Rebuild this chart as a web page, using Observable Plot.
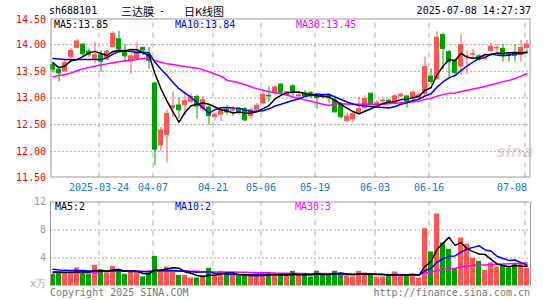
<!DOCTYPE html>
<html><head><meta charset="utf-8">
<script src="https://cdn.jsdelivr.net/npm/d3@7"></script>
<script src="https://cdn.jsdelivr.net/npm/@observablehq/plot@0.6"></script>
<style>
html,body{margin:0;padding:0;background:#fff;}
#wrap{position:relative;width:545px;height:300px;overflow:hidden;font-family:"DejaVu Sans Mono",monospace;font-size:10px;}
#wrap svg{position:absolute;left:0;}
.t{position:absolute;white-space:pre;line-height:12px;height:12px;}
</style></head><body><div id="wrap"></div>
<script>
// ---- data ----
const opens = [13.62,13.53,13.50,13.77,13.94,14.00,13.87,13.72,13.80,13.72,
13.96,14.10,13.86,13.70,13.72,13.94,13.80,13.27,12.11,12.31,
12.81,12.86,12.87,12.93,13.02,12.80,12.82,12.65,12.69,12.78,
12.76,12.78,12.79,12.66,12.78,12.90,13.04,13.09,13.25,13.05,
13.22,13.03,13.09,13.09,13.06,13.05,13.06,12.95,12.89,12.57,
12.60,12.70,12.81,13.08,12.82,12.94,12.95,12.91,13.03,13.03,
12.99,13.00,13.08,13.40,13.36,14.18,13.86,13.70,13.59,13.76,
13.81,13.78,13.74,13.88,13.93,13.92,13.81,13.84,13.81,13.94];
const highs = [13.67,13.58,13.70,13.93,14.10,14.02,13.92,14.04,13.89,13.89,
14.24,14.25,14.00,13.83,14.04,13.95,13.95,13.30,12.45,12.78,
13.12,13.00,13.12,13.08,13.05,13.03,12.87,12.72,12.80,12.85,
12.84,12.82,12.82,12.82,12.90,13.14,13.21,13.23,13.27,13.12,
13.25,13.09,13.14,13.12,13.08,13.07,13.08,13.04,12.92,12.72,
12.74,13.02,13.04,13.08,12.95,12.98,12.98,13.06,13.09,13.03,
13.14,13.11,13.77,13.55,14.24,14.21,13.89,13.73,14.19,13.88,
13.91,13.81,13.80,14.02,14.00,14.00,13.83,14.00,14.08,14.08];
const lows = [13.47,13.30,13.48,13.70,13.92,13.77,13.76,13.64,13.48,13.70,
13.94,13.89,13.67,13.45,13.70,13.80,13.54,11.73,12.00,11.78,
12.63,12.61,12.67,12.89,12.60,12.74,12.49,12.57,12.55,12.68,
12.65,12.68,12.56,12.60,12.76,12.88,12.92,13.05,13.05,13.02,
13.02,12.99,13.00,12.99,12.79,12.99,12.90,12.72,12.61,12.55,
12.53,12.67,12.78,12.86,12.80,12.90,12.89,12.87,13.01,12.81,
12.90,12.95,13.03,13.25,13.33,13.53,13.39,13.44,13.42,13.45,
13.71,13.69,13.70,13.86,13.85,13.67,13.67,13.67,13.67,13.87];
const closes = [13.53,13.46,13.66,13.88,14.06,13.82,13.81,13.80,13.68,13.87,
14.20,13.91,13.78,13.78,13.86,13.89,13.70,12.03,12.39,12.70,
12.85,12.77,12.94,13.02,12.84,12.96,12.66,12.68,12.76,12.73,
12.77,12.74,12.58,12.77,12.85,13.06,13.03,13.20,13.10,13.11,
13.10,13.05,13.03,13.03,13.00,13.02,13.01,12.73,12.64,12.65,
12.70,12.79,12.98,12.87,12.90,12.95,12.91,13.03,13.06,12.93,
13.10,13.05,13.58,13.30,14.13,13.92,13.67,13.47,13.99,13.78,
13.82,13.72,13.77,13.96,13.94,13.79,13.79,13.79,13.94,14.00];
const volumes = [1.67,1.9,1.9,1.9,2.57,1.9,1.67,2.95,2.24,1.86,
2.8,1.95,1.67,2.1,1.9,1.29,1.86,4.24,2.1,2.7,
2.19,1.52,1.52,1.14,1.14,1.43,2.52,1.52,2.1,1.67,
1.43,1.43,1.43,1.52,1.52,1.67,1.9,1.52,1.52,1.52,
2.1,1.52,1.67,1.29,2.1,1.67,1.67,2.1,1.67,1.43,
1.29,2.1,1.86,1.67,1.29,1.29,1.52,2.0,1.52,1.52,
1.62,1.14,8.19,4.86,10.29,6.14,5.24,2.48,6.86,5.95,
4.0,3.52,2.24,3.29,2.71,2.95,2.57,3.05,3.05,2.57];
// moving-average values at the left edge, where the window reaches before the first candle
const ma5Head = [13.66,13.57,13.60,13.70];
const ma10Head = [13.74,13.73,13.72,13.72,13.72,13.72,13.72,13.72,13.72];
const ma30Head = [13.40,13.42,13.44,13.47,13.51,13.55,13.57,13.60,13.62,13.64,
13.66,13.68,13.70,13.71,13.72,13.74,13.75,13.70,13.67,13.64,
13.63,13.61,13.59,13.57,13.56,13.53,13.49,13.45,13.41];
const vma5Head = [2.0,2.0,1.95,1.95];
const vma10Head = [2.4,2.3,2.25,2.2,2.2,2.2,2.15,2.15,2.1];
const vma30Head = [1.9,1.9,1.9,1.9,1.9,1.9,1.9,1.9,2.1,2.1,
2.1,2.1,2.1,2.1,2.1,2.1,2.1,2.1,2.1,2.1,
2.1,2.1,2.1,2.1,2.1,2.05,2.05,2.0,2.0];
const tickIdx = [8,17,27,35,44,54,63,79];
const tickLabels = ["2025-03-24","04-07","04-21","05-06","05-19","06-03","06-16","07-08"];
const priceTicks = [14.5,14.0,13.5,13.0,12.5,12.0,11.5];
const volTicks = [12,8,4];
const priceMaLabels = ["MA5:13.85","MA10:13.84","MA30:13.45"];
const volMaLabels = ["MA5:2","MA10:2","MA30:3"];

const RED = "#ff5555", GREEN = "#00a000", GRID = "#aaaaaa";
function ma(vals, n, head){return vals.map((_,i)=> i < n-1 ? head[i] : d3.mean(vals.slice(i-n+1,i+1)));}
const m5 = ma(closes,5,ma5Head), m10 = ma(closes,10,ma10Head), m30 = ma(closes,30,ma30Head);
const v5 = ma(volumes,5,vma5Head), v10 = ma(volumes,10,vma10Head), v30 = ma(volumes,30,vma30Head);
const rows = closes.map((c,i)=>({i,o:opens[i],h:highs[i],l:lows[i],c,v:volumes[i],up:c>=opens[i],
  m5:m5[i],m10:m10[i],m30:m30[i],v5:v5[i],v10:v10[i],v30:v30[i]}));
const col = d => d.up ? RED : GREEN;

const xs = {type:"linear",domain:[-0.5,79.5],range:[49.5,529.5],axis:null};
const font = {fontFamily:"DejaVu Sans Mono",fontSize:"10px",background:"transparent",overflow:"visible"};

const main = Plot.plot({
  width:545,height:195,marginLeft:50,marginRight:15,marginTop:18,marginBottom:18,
  x:xs, y:{domain:[11.5,14.5],range:[177.5,17.5],axis:null}, style:font,
  marks:[
    Plot.ruleY(priceTicks.slice(1,-1),{stroke:GRID,strokeDasharray:"2,2"}),
    Plot.ruleX(tickIdx,{x:d=>d,dx:-2,y1:11.5,y2:14.5,stroke:GRID,strokeDasharray:"5,5"}),
    Plot.ruleX(rows,{x:"i",y1:"l",y2:"h",stroke:col}),
    Plot.rect(rows,{x1:d=>d.i-0.5,x2:d=>d.i+0.5,y1:"o",y2:"c",insetLeft:1,insetRight:1,fill:col,stroke:col}),
    Plot.line(rows,{x:"i",y:"m30",stroke:"#ff00ff"}),
    Plot.line(rows,{x:"i",y:"m10",stroke:"#0000ff"}),
    Plot.line(rows,{x:"i",y:"m5",stroke:"#000000"}),
    Plot.frame({stroke:"#999999",inset:0.5}),
    Plot.text(priceTicks.slice(1),{x:-0.5,y:d=>d,dx:-4,text:d=>d.toFixed(2),textAnchor:"end",fill:"#ff0000"}),
    Plot.text([priceTicks[0]],{x:-0.5,y:d=>d,dx:-4,dy:2,text:d=>d.toFixed(2),textAnchor:"end",fill:"#ff0000"}),
    Plot.text(tickIdx.slice(0,-1),{x:d=>d,y:11.5,dx:-2,dy:10,text:(d,i)=>tickLabels[i],fill:"#1177cc"}),
    Plot.text(tickIdx.slice(-1),{x:d=>d,y:11.5,dy:10,text:()=>tickLabels[tickLabels.length-1],textAnchor:"end",fill:"#1177cc"})
  ]
});
main.style.top = "0px";

const vol = Plot.plot({
  width:545,height:105,marginLeft:50,marginRight:15,marginTop:6,marginBottom:14,
  x:xs, y:{domain:[0,12],range:[90.5,6.5],axis:null}, style:font,
  marks:[
    Plot.ruleY(volTicks.slice(1),{stroke:GRID,strokeDasharray:"2,2"}),
    Plot.ruleX(tickIdx,{x:d=>d,dx:-2,y1:0,y2:12,stroke:GRID,strokeDasharray:"5,5"}),
    Plot.rect(rows,{x1:d=>d.i-0.5,x2:d=>d.i+0.5,y1:0,y2:"v",insetLeft:0.5,insetRight:0.5,fill:col}),
    Plot.line(rows,{x:"i",y:"v30",stroke:"#ff00ff"}),
    Plot.line(rows,{x:"i",y:"v10",stroke:"#0000ff"}),
    Plot.line(rows,{x:"i",y:"v5",stroke:"#000000"}),
    Plot.ruleY([12],{x1:-0.5,x2:79.5,stroke:"#999999"}),
    Plot.ruleX([-0.5,79.5],{y1:0,y2:12,stroke:"#999999",dx:0.5}),
    Plot.text(volTicks,{x:-0.5,y:d=>d,dx:-4,text:d=>String(d),textAnchor:"end",fill:"#999999"}),
    Plot.text(["x万"],{x:-0.5,y:0,dx:-4,dy:-2,text:d=>d,textAnchor:"end",fill:"#aaaaaa"})
  ]
});
vol.style.top = "195px";

const wrap = document.getElementById("wrap");
wrap.appendChild(main); wrap.appendChild(vol);
function label(txt,left,top,color,extra){
  const d=document.createElement("div");d.className="t";d.textContent=txt;
  d.style.left=left+"px";d.style.top=top+"px";d.style.color=color;
  if(extra)Object.assign(d.style,extra);wrap.appendChild(d);return d;}
const cjk={fontFamily:"'Noto Sans CJK SC',sans-serif",fontSize:"11px"};
label("sh688101",49,5,"#000");
label("三达膜",121,5,"#000",cjk);
label("-",159,5,"#000");
label("日K线图",184,5,"#000",cjk);
const tl = label("2025-07-08 14:27:37",0,5,"#000"); tl.style.left="auto"; tl.style.right="14px";
label(priceMaLabels[0],54,19,"#000");
label(priceMaLabels[1],175,19,"#0000ff");
label(priceMaLabels[2],296,19,"#ff00ff");
label(volMaLabels[0],55,201,"#000");
label(volMaLabels[1],175,201,"#0000ff");
label(volMaLabels[2],295,201,"#ff00ff");
label("Copyright 2025 SINA.COM",50,287,"#777");
const hl = label("http://finance.sina.com.cn",0,287,"#777"); hl.style.left="auto"; hl.style.right="15px";
label("sina",496,143,"rgba(190,170,170,0.45)",{fontFamily:"'DejaVu Sans',sans-serif",fontSize:"16px",fontStyle:"italic",fontWeight:"bold",height:"18px",lineHeight:"18px"});
</script></body></html>
